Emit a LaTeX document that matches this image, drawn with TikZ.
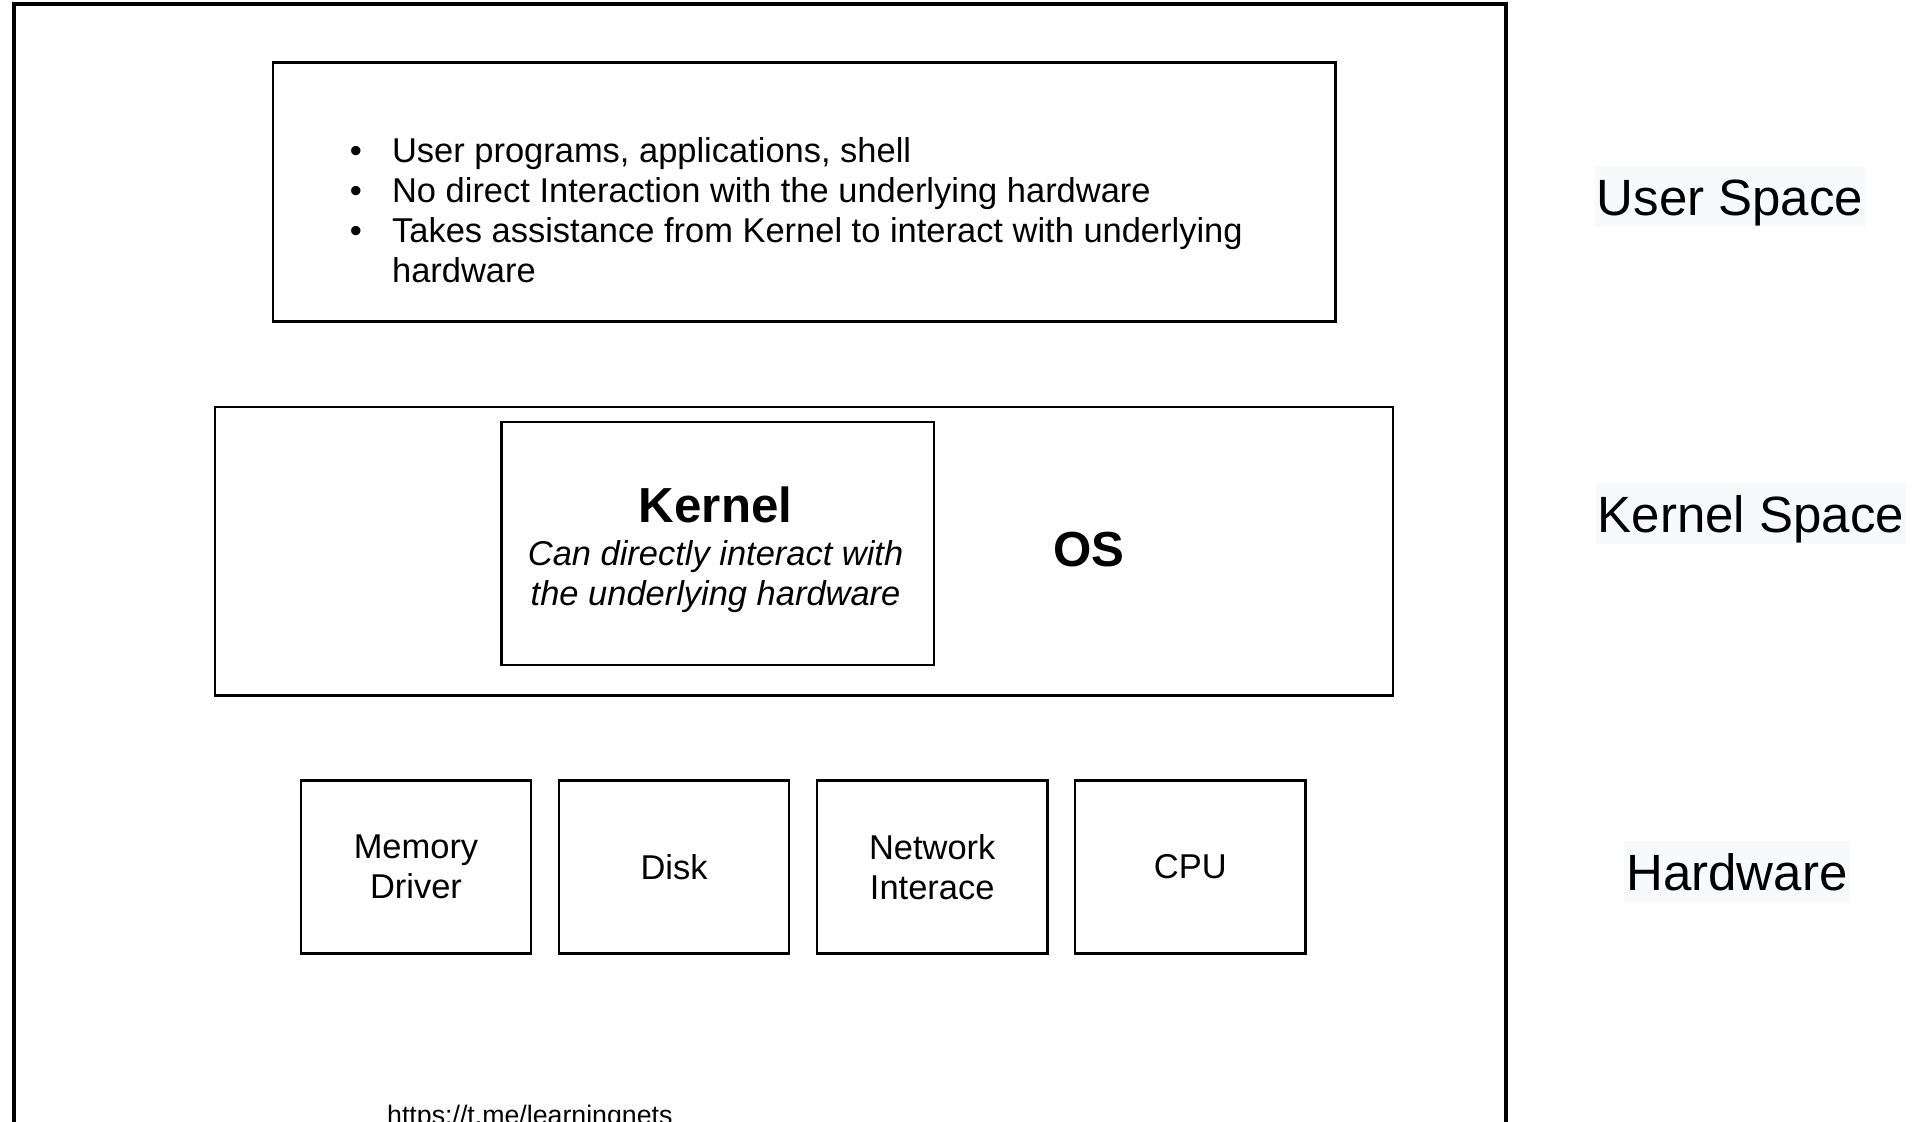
\documentclass[tikz,border=0pt]{standalone}
\usepackage{fontspec}
\setmainfont{Liberation Sans}
\definecolor{labelbg}{RGB}{248,249,250}

\begin{document}
\begin{tikzpicture}[x=0.01cm,y=-0.01cm]
		\tikzset{box/.style = {draw=black,line width=0.7pt,anchor=north west,inner sep=0pt}}
		\tikzset{txt/.style = {font=\fontsize{9.8}{11.2}\selectfont,inner sep=0pt}}
		\tikzset{layer/.style = {fill=labelbg,anchor=base,inner xsep=0.6pt,inner ysep=0pt,text height=13.8pt,text depth=3.3pt,font=\fontsize{14.5}{17}\selectfont}}
		\useasboundingbox (0,0) rectangle (1918,1121);
		\clip (0,0) rectangle (1918,1121);
		%\draw[solid] (0,0) rectangle (1918,1121);
		\draw[line width=0.9pt] (14,4) rectangle (1506,1160);
		% user space
		\node[box,minimum width=10.62cm,minimum height=2.59cm] (user) at (271.6,61.2) {};
		\node[txt,anchor=base] (b1) at (356,162) {\textbullet};
		\node[txt,anchor=base] (b2) at (356,202) {\textbullet};
		\node[txt,anchor=base] (b3) at (356,242) {\textbullet};
		\node[txt,anchor=base west] (u1) at (391.4,162) {User programs, applications, shell};
		\node[txt,anchor=base west] (u2) at (391.4,202) {No direct Interaction with the underlying hardware};
		\node[txt,anchor=base west] (u3) at (391.4,242) {Takes assistance from Kernel to interact with underlying};
		\node[txt,anchor=base west] (u4) at (391.4,282) {hardware};
		% kernel space
		\node[box,minimum width=11.77cm,minimum height=2.88cm] (os) at (214,406) {};
		\node[box,minimum width=4.32cm,minimum height=2.43cm] (kernel) at (500.3,420.8) {};
		\node[txt,anchor=base,font=\fontsize{14}{17}\selectfont\bfseries] (kname) at (715.6,522) {Kernel};
		\node[txt,anchor=base,font=\fontsize{9.8}{11.2}\selectfont\itshape] (k1) at (715.6,565) {Can directly interact with};
		\node[txt,anchor=base,font=\fontsize{9.8}{11.2}\selectfont\itshape] (k2) at (715.6,605) {the underlying hardware};
		\node[txt,font=\fontsize{14}{17}\selectfont\bfseries] (osname) at (1088.6,550) {OS};
		% hardware
		{
			\tikzset{box/.append style = {minimum width=2.30cm,minimum height=1.73cm,align=center,font=\fontsize{9.8}{11.2}\selectfont}}
			\foreach \n/\t [count=\i from 0] in {mem/{Memory\\Driver},disk/{Disk},net/{Network\\Interace},cpu/{CPU}}
				\node[box] (\n) at ({299.7+258.1*\i},779.2) {\t};
		}
		% layer names
		\node[layer] (userspace) at (1730,215) {User Space};
		\node[layer] (kernelspace) at (1751,532) {Kernel Space};
		\node[layer] (hardware) at (1737,890) {Hardware};
		\node[txt,anchor=base west,font=\fontsize{7.6}{9}\selectfont] (url) at (386.5,1124) {https://t.me/learningnets};
	\end{tikzpicture}
\end{document}
